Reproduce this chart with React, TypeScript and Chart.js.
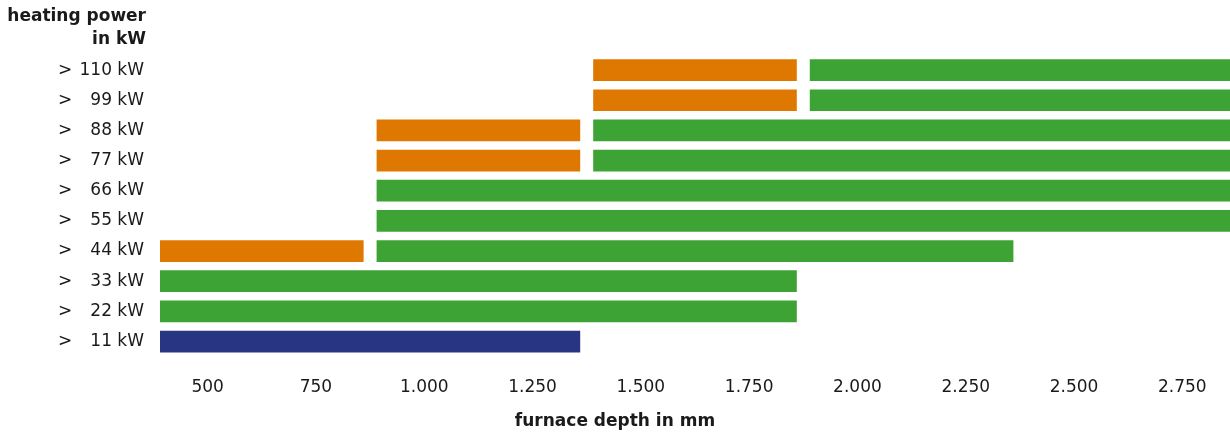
import React, { useEffect, useRef } from "react";
import { Chart, registerables } from "chart.js";

Chart.register(...registerables);

const rowLabels = ["110 kW", "99 kW", "88 kW", "77 kW", "66 kW", "55 kW", "44 kW", "33 kW", "22 kW", "11 kW"];
const orangeRanges: ([number, number] | null)[] = [
  [1390, 1860], [1390, 1860], [890, 1360], [890, 1360], null, null, [390, 860], null, null, null,
];
const greenRanges: ([number, number] | null)[] = [
  [1890, 2860], [1890, 2860], [1390, 2860], [1390, 2860], [890, 2860], [890, 2860], [890, 2360], [390, 1860], [390, 1860], null,
];
const blueRanges: ([number, number] | null)[] = [
  null, null, null, null, null, null, null, null, null, [390, 1360],
];
const xTicks = [500, 750, 1000, 1250, 1500, 1750, 2000, 2250, 2500, 2750];
const xMin = 390;
const xMax = 2860;
const headingLines = ["heating power", "in kW"];
const xTitle = "furnace depth in mm";

const FONT = "'DejaVu Sans', sans-serif";
const TEXT = "#1a1a1a";

const fmt = (v: number) =>
  v >= 1000 ? `${Math.floor(v / 1000)}.${String(v % 1000).padStart(3, "0")}` : String(v);

const decorPlugin = {
  id: "decor",
  afterDraw(chart: any) {
    const ctx = chart.ctx;
    ctx.save();
    ctx.fillStyle = TEXT;
    ctx.font = `bold 17px ${FONT}`;
    ctx.textAlign = "right";
    ctx.textBaseline = "alphabetic";
    ctx.fillText(headingLines[0], 146, 21);
    ctx.fillText(headingLines[1], 146, 44);
    ctx.font = `17px ${FONT}`;
    ctx.textAlign = "left";
    ctx.textBaseline = "middle";
    const ys = chart.scales.y;
    rowLabels.forEach((_, i) => {
      ctx.fillText(">", 58, ys.getPixelForValue(i));
    });
    ctx.restore();
  },
};

export default function App() {
  const ref = useRef<HTMLCanvasElement>(null);
  useEffect(() => {
    if (!ref.current) return;
    const common = { barPercentage: 0.72, categoryPercentage: 1, grouped: false, borderWidth: 0 };
    const chart = new Chart(ref.current, {
      type: "bar",
      data: {
        labels: rowLabels,
        datasets: [
          { label: "orange", data: orangeRanges as any, backgroundColor: "#DF7800", ...common },
          { label: "green", data: greenRanges as any, backgroundColor: "#3DA335", ...common },
          { label: "blue", data: blueRanges as any, backgroundColor: "#283583", ...common },
        ],
      },
      options: {
        indexAxis: "y",
        animation: false,
        responsive: true,
        maintainAspectRatio: false,
        layout: { padding: { top: 55, right: 0, left: 0, bottom: 0 } },
        plugins: {
          legend: { display: false },
          tooltip: { enabled: false },
          title: {
            display: true,
            position: "bottom",
            text: xTitle,
            color: TEXT,
            font: { family: FONT, size: 17, weight: "bold" },
            padding: { top: 7, bottom: 3 },
          },
        },
        scales: {
          x: {
            type: "linear",
            min: xMin,
            max: xMax,
            grid: { display: false, drawTicks: false },
            border: { display: false },
            afterBuildTicks: (scale: any) => {
              scale.ticks = xTicks.map((v) => ({ value: v }));
            },
            afterFit: (scale: any) => {
              scale.height = 48;
            },
            ticks: {
              padding: 21,
              color: TEXT,
              font: { family: FONT, size: 17 },
              maxRotation: 0,
              autoSkip: false,
              callback: (v: any) => fmt(Number(v)),
            },
          },
          y: {
            type: "category",
            grid: { display: false, drawTicks: false },
            border: { display: false },
            afterFit: (scale: any) => {
              scale.width = 160;
            },
            ticks: {
              padding: 16,
              color: TEXT,
              font: { family: FONT, size: 17 },
            },
          },
        },
      },
      plugins: [decorPlugin],
    });
    return () => chart.destroy();
  }, []);
  return (
    <div style={{ position: "absolute", left: 0, top: 0, width: 1230, height: 435 }}>
      <canvas ref={ref} />
    </div>
  );
}
